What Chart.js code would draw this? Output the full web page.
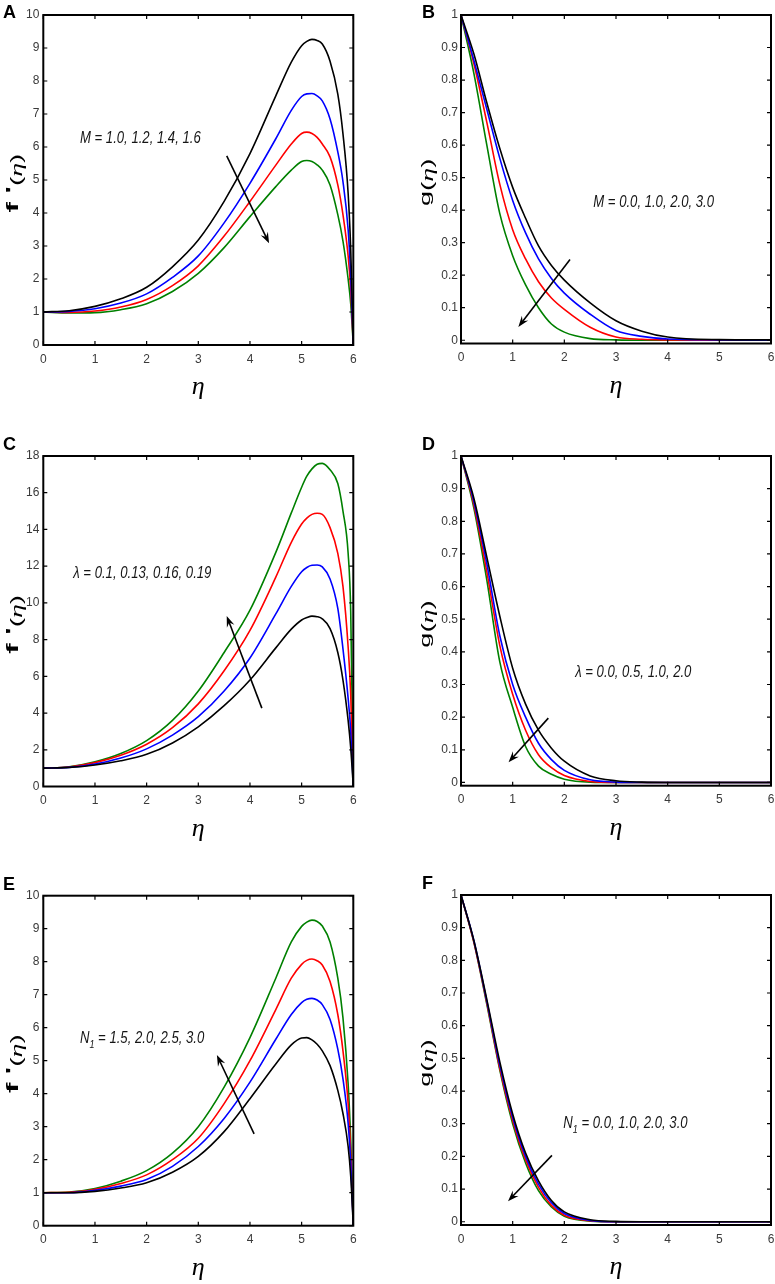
<!DOCTYPE html>
<html>
<head>
<meta charset="utf-8">
<script src="https://cdn.jsdelivr.net/npm/chart.js@4.4.1/dist/chart.umd.min.js"></script>
<style>
  html, body { margin: 0; padding: 0; background: #fff; }
  #fig { position: relative; width: 775px; height: 1284px; overflow: hidden; }
  #fig canvas { position: absolute; }
</style>
</head>
<body>
<div id="fig"></div>
<script>
// ---- data ----
const xF = [0, 0.5, 1, 1.5, 2, 2.5, 3, 3.5, 4, 4.5, 4.8, 5.0, 5.1, 5.2, 5.3, 5.4, 5.55, 5.7, 5.8, 5.9, 5.95, 6];
const xG = [0, 0.25, 0.5, 0.75, 1, 1.25, 1.5, 1.75, 2, 2.5, 3, 3.5, 4, 5, 6];

// A: f'(eta), M = 1.0, 1.2, 1.4, 1.6
const fM10 = [1.0, 1.04, 1.17, 1.40, 1.75, 2.37, 3.18, 4.35, 5.80, 7.55, 8.57, 9.07, 9.20, 9.26, 9.23, 9.12, 8.60, 7.60, 6.40, 4.60, 2.90, 0];
const fM12 = [1.0, 1.02, 1.10, 1.27, 1.55, 2.05, 2.70, 3.70, 4.90, 6.25, 7.11, 7.53, 7.61, 7.62, 7.55, 7.40, 6.85, 5.85, 4.95, 3.50, 2.10, 0];
const fM14 = [1.0, 0.99, 1.03, 1.15, 1.38, 1.80, 2.40, 3.30, 4.35, 5.45, 6.09, 6.41, 6.45, 6.41, 6.29, 6.09, 5.70, 4.85, 3.95, 2.70, 1.70, 0];
const fM16 = [1.0, 0.97, 0.98, 1.07, 1.25, 1.62, 2.17, 2.95, 3.89, 4.80, 5.30, 5.56, 5.59, 5.56, 5.46, 5.30, 4.85, 3.95, 3.15, 2.00, 1.25, 0];

// C: f'(eta), lambda = 0.1, 0.13, 0.16, 0.19
const fL10 = [1.0, 1.04, 1.17, 1.40, 1.75, 2.37, 3.25, 4.40, 5.80, 7.55, 8.57, 9.07, 9.20, 9.28, 9.25, 9.13, 8.60, 7.30, 5.80, 3.60, 2.10, 0];
const fL13 = [1.0, 1.04, 1.22, 1.55, 2.05, 2.80, 3.80, 5.20, 7.00, 9.40, 10.9, 11.7, 11.93, 12.05, 12.06, 11.96, 11.3, 9.70, 7.50, 4.80, 3.00, 0];
const fL16 = [1.0, 1.06, 1.30, 1.70, 2.30, 3.20, 4.50, 6.30, 8.50, 11.4, 13.3, 14.3, 14.62, 14.82, 14.88, 14.82, 14.1, 12.7, 10.9, 7.60, 5.00, 0];
const fL19 = [1.0, 1.08, 1.35, 1.80, 2.50, 3.60, 5.20, 7.30, 9.60, 12.75, 14.9, 16.3, 16.9, 17.3, 17.55, 17.6, 17.25, 16.5, 15.0, 12.7, 9.50, 0];

// E: f'(eta), N1 = 1.5, 2.0, 2.5, 3.0
const fN15 = [1.0, 1.00, 1.04, 1.14, 1.30, 1.62, 2.10, 2.85, 3.85, 4.90, 5.48, 5.69, 5.70, 5.63, 5.50, 5.30, 4.85, 4.10, 3.40, 2.40, 1.50, 0];
const fN20 = [1.0, 1.00, 1.07, 1.20, 1.40, 1.80, 2.40, 3.25, 4.35, 5.65, 6.40, 6.76, 6.86, 6.89, 6.84, 6.70, 6.25, 5.35, 4.45, 3.10, 1.90, 0];
const fN25 = [1.0, 1.01, 1.10, 1.28, 1.54, 2.00, 2.65, 3.70, 5.00, 6.55, 7.50, 7.92, 8.04, 8.08, 8.03, 7.90, 7.40, 6.40, 5.30, 3.70, 2.20, 0];
const fN30 = [1.0, 1.02, 1.13, 1.35, 1.67, 2.20, 3.00, 4.20, 5.70, 7.50, 8.60, 9.07, 9.20, 9.26, 9.22, 9.08, 8.60, 7.50, 6.30, 4.30, 2.60, 0];

// B: g(eta), M = 0.0, 1.0, 2.0, 3.0
const gM00 = [1, 0.88, 0.73, 0.59, 0.47, 0.375, 0.29, 0.23, 0.185, 0.115, 0.06, 0.028, 0.01, 0.002, 0.001];
const gM10 = [1, 0.86, 0.71, 0.56, 0.43, 0.33, 0.25, 0.19, 0.145, 0.08, 0.03, 0.012, 0.004, 0.001, 0];
const gM20 = [1, 0.85, 0.67, 0.48, 0.34, 0.25, 0.18, 0.13, 0.095, 0.04, 0.01, 0.003, 0.001, 0, 0];
const gM30 = [1, 0.82, 0.60, 0.39, 0.26, 0.17, 0.10, 0.05, 0.025, 0.005, 0.001, 0, 0, 0, 0];

// D: g(eta), lambda = 0.0, 0.5, 1.0, 2.0
const gL00 = [1, 0.87, 0.69, 0.51, 0.35, 0.24, 0.16, 0.105, 0.065, 0.02, 0.005, 0.001, 0, 0, 0];
const gL05 = [1, 0.86, 0.67, 0.45, 0.30, 0.20, 0.12, 0.07, 0.037, 0.008, 0.001, 0, 0, 0, 0];
const gL10 = [1, 0.85, 0.645, 0.42, 0.27, 0.16, 0.085, 0.045, 0.021, 0.003, 0, 0, 0, 0, 0];
const gL20 = [1, 0.84, 0.62, 0.37, 0.23, 0.11, 0.05, 0.025, 0.01, 0.001, 0, 0, 0, 0, 0];

// F: g(eta), N1 = 0.0, 1.0, 2.0, 3.0
const gN00 = [1, 0.86, 0.68, 0.49, 0.33, 0.21, 0.125, 0.065, 0.03, 0.006, 0.001, 0, 0, 0, 0];
const gN10 = [1, 0.86, 0.675, 0.48, 0.32, 0.20, 0.115, 0.058, 0.025, 0.004, 0, 0, 0, 0, 0];
const gN20 = [1, 0.855, 0.67, 0.47, 0.31, 0.19, 0.105, 0.05, 0.02, 0.003, 0, 0, 0, 0, 0];
const gN30 = [1, 0.855, 0.665, 0.465, 0.30, 0.18, 0.095, 0.045, 0.017, 0.002, 0, 0, 0, 0, 0];

// ticks
const xTicks = [0, 1, 2, 3, 4, 5, 6];
const yTicks10 = [0, 1, 2, 3, 4, 5, 6, 7, 8, 9, 10];
const yTicks18 = [0, 2, 4, 6, 8, 10, 12, 14, 16, 18];
const yTicksG = [0, 0.1, 0.2, 0.3, 0.4, 0.5, 0.6, 0.7, 0.8, 0.9, 1];
const yLabelsG = ['0', '0.1', '0.2', '0.3', '0.4', '0.5', '0.6', '0.7', '0.8', '0.9', '1'];

// ---- styling / layout ----
const colors = ['#000000', '#0000ff', '#ff0000', '#008000'];
const tickFont = { family: '"Liberation Sans", Arial, sans-serif', size: 12 };
const noteFamily = '"Liberation Sans", Arial, sans-serif';
const squeeze = 0.82;   // the source figure's text is horizontally condensed

const cols = [{ left: 0, w: 385 }, { left: 385, w: 390 }];
const rows = [{ top: 0, h: 420 }, { top: 420, h: 440 }, { top: 860, h: 424 }];

const panels = [
  { letter: 'A', col: 0, row: 0, rect: [43.3, 15, 353.3, 345], xs: xF, ys: [fM10, fM12, fM14, fM16],
    yMin: 0, yMax: 10, yTicks: yTicks10, kind: 'f',
    note: { pre: 'M', sub: '', post: ' = 1.0, 1.2, 1.4, 1.6', x: 0.71, y: 6.13 }, arrow: [3.55, 5.73, 4.37, 3.08] },
  { letter: 'B', col: 1, row: 0, rect: [461, 15, 771, 343.5], xs: xG, ys: [gM00, gM10, gM20, gM30],
    yMin: -0.01, yMax: 1, yTicks: yTicksG, labels: yLabelsG, kind: 'g',
    note: { pre: 'M', sub: '', post: ' = 0.0, 1.0, 2.0, 3.0', x: 2.56, y: 0.41 }, arrow: [2.11, 0.248, 1.11, 0.041] },
  { letter: 'C', col: 0, row: 1, rect: [43.3, 456, 353.3, 786.5], xs: xF, ys: [fL10, fL13, fL16, fL19],
    yMin: 0, yMax: 18, yTicks: yTicks18, kind: 'f',
    note: { pre: 'λ', sub: '', post: ' = 0.1, 0.13, 0.16, 0.19', x: 0.58, y: 11.33 }, arrow: [4.23, 4.27, 3.55, 9.29] },
  { letter: 'D', col: 1, row: 1, rect: [461, 456, 771, 785.7], xs: xG, ys: [gL00, gL05, gL10, gL20],
    yMin: -0.01, yMax: 1, yTicks: yTicksG, labels: yLabelsG, kind: 'g',
    note: { pre: 'λ', sub: '', post: ' = 0.0, 0.5, 1.0, 2.0', x: 2.21, y: 0.324 }, arrow: [1.69, 0.197, 0.92, 0.062] },
  { letter: 'E', col: 0, row: 2, rect: [43.3, 895.7, 353.3, 1225.7], xs: xF, ys: [fN15, fN20, fN25, fN30],
    yMin: 0, yMax: 10, yTicks: yTicks10, kind: 'f',
    note: { pre: 'N', sub: '1', post: ' = 1.5, 2.0, 2.5, 3.0', x: 0.71, y: 5.55 }, arrow: [4.08, 2.78, 3.36, 5.17] },
  { letter: 'F', col: 1, row: 2, rect: [461, 895, 771, 1225], xs: xG, ys: [gN00, gN10, gN20, gN30],
    yMin: -0.01, yMax: 1, yTicks: yTicksG, labels: yLabelsG, kind: 'g',
    note: { pre: 'N', sub: '1', post: ' = 0.0, 1.0, 2.0, 3.0', x: 1.98, y: 0.287 }, arrow: [1.76, 0.203, 0.91, 0.063] }
];

// ---- drawing helpers ----
function drawArrow(ctx, x0, y0, x1, y1) {
  const ang = Math.atan2(y1 - y0, x1 - x0), L = 11, W = 4;
  const c = Math.cos(ang), s = Math.sin(ang);
  const bx = x1 - L * c, by = y1 - L * s;
  ctx.beginPath();
  ctx.moveTo(x0, y0);
  ctx.lineTo(x1 - 6 * c, y1 - 6 * s);
  ctx.lineWidth = 1.6;
  ctx.stroke();
  ctx.beginPath();
  ctx.moveTo(x1, y1);
  ctx.lineTo(bx - W * s, by + W * c);
  ctx.lineTo(x1 - 7 * c, y1 - 7 * s);
  ctx.lineTo(bx + W * s, by - W * c);
  ctx.closePath();
  ctx.fill();
}

function drawYTitle(ctx, kind, bx, cy) {
  const parts = kind === 'f'
    ? [{ t: 'f', f: 'bold 31px "Liberation Sans", Arial', dy: 0 },
       { t: " '", f: 'bold 31px "Liberation Sans", Arial', dy: 0 },
       { t: '(', f: '28px "Liberation Sans", Arial', dy: 7 },
       { t: 'η', f: 'italic 28px "Liberation Serif", serif', dy: 7 },
       { t: ')', f: '28px "Liberation Sans", Arial', dy: 7 }]
    : [{ t: 'g', f: '27px "Liberation Sans", Arial', dy: 0 },
       { t: '(', f: '28px "Liberation Sans", Arial', dy: 5 },
       { t: 'η', f: 'italic 28px "Liberation Serif", serif', dy: 5 },
       { t: ')', f: '28px "Liberation Sans", Arial', dy: 5 }];
  ctx.save();
  ctx.translate(bx, cy);
  ctx.rotate(-Math.PI / 2);
  ctx.scale(1, 0.56);
  ctx.fillStyle = '#000';
  ctx.textBaseline = 'alphabetic';
  ctx.textAlign = 'left';
  let total = 0;
  parts.forEach(p => { ctx.font = p.f; p.w = ctx.measureText(p.t).width; total += p.w; });
  let x = -total / 2;
  parts.forEach(p => { ctx.font = p.f; ctx.fillText(p.t, x, p.dy); x += p.w; });
  ctx.restore();
}

function drawNote(ctx, n, tx, ty) {
  ctx.save();
  ctx.translate(tx, ty);
  ctx.scale(squeeze, 1);
  ctx.fillStyle = '#151515';
  ctx.textBaseline = 'alphabetic';
  ctx.textAlign = 'left';
  ctx.font = 'italic 16px ' + noteFamily;
  let x = 0;
  ctx.fillText(n.pre, x, 0);
  x += ctx.measureText(n.pre).width;
  if (n.sub) {
    ctx.font = 'italic 11px ' + noteFamily;
    ctx.fillText(n.sub, x, 5);
    x += ctx.measureText(n.sub).width;
    ctx.font = 'italic 16px ' + noteFamily;
  }
  ctx.fillText(n.post, x, 0);
  ctx.restore();
}

const decor = {
  id: 'decor',
  afterDatasetsDraw(chart, args, o) {
    const { ctx, chartArea: a, scales: { x, y } } = chart;
    ctx.save();
    ctx.strokeStyle = '#000';
    ctx.fillStyle = '#000';
    ctx.lineWidth = 1.2;
    ctx.beginPath();
    x.ticks.forEach(t => {
      const p = x.getPixelForValue(t.value);
      ctx.moveTo(p, a.bottom); ctx.lineTo(p, a.bottom - 4);
      ctx.moveTo(p, a.top); ctx.lineTo(p, a.top + 4);
    });
    y.ticks.forEach(t => {
      const p = y.getPixelForValue(t.value);
      ctx.moveTo(a.left, p); ctx.lineTo(a.left + 4, p);
      ctx.moveTo(a.right, p); ctx.lineTo(a.right - 4, p);
    });
    ctx.stroke();
    ctx.lineWidth = 2;
    ctx.strokeRect(a.left, a.top, a.right - a.left, a.bottom - a.top);

    const ar = o.arrow;
    drawArrow(ctx, x.getPixelForValue(ar[0]), y.getPixelForValue(ar[1]),
                   x.getPixelForValue(ar[2]), y.getPixelForValue(ar[3]));

    drawNote(ctx, o.note, x.getPixelForValue(o.note.x), y.getPixelForValue(o.note.y));

    // axis titles
    ctx.fillStyle = '#000';
    ctx.textAlign = 'center';
    ctx.textBaseline = 'alphabetic';
    ctx.font = 'italic 26px "Liberation Serif", serif';
    ctx.fillText('η', (a.left + a.right) / 2, a.bottom + 49);
    drawYTitle(ctx, o.kind, o.titleX, (a.top + a.bottom) / 2 + 3);

    // panel letter
    ctx.textAlign = 'left';
    ctx.font = 'bold 18px "Liberation Sans", Arial, sans-serif';
    ctx.fillText(o.letter, o.letterX, a.top + o.letterDy);
    ctx.restore();
  }
};

const fig = document.getElementById('fig');

panels.forEach(p => {
  const c = cols[p.col], r = rows[p.row];
  const [L, T, R, B] = p.rect;
  const xAxisH = 40;
  const canvas = document.createElement('canvas');
  canvas.width = c.w;
  canvas.height = r.h;
  canvas.style.left = c.left + 'px';
  canvas.style.top = r.top + 'px';
  fig.appendChild(canvas);

  const datasets = p.ys.map((ys, i) => ({
    data: p.xs.map((xv, j) => ({ x: xv, y: ys[j] })),
    borderColor: colors[i],
    borderWidth: 1.6,
    pointRadius: 0,
    fill: false,
    cubicInterpolationMode: 'monotone'
  }));

  new Chart(canvas.getContext('2d'), {
    type: 'line',
    data: { datasets },
    options: {
      responsive: false,
      animation: false,
      events: [],
      layout: { padding: { top: T - r.top, right: c.left + c.w - R, bottom: r.top + r.h - B - xAxisH, left: 0 } },
      plugins: {
        legend: { display: false },
        tooltip: { enabled: false },
        decor: {
          arrow: p.arrow, note: p.note, kind: p.kind, letter: p.letter,
          titleX: p.col === 0 ? 18 : 45,
          letterX: p.col === 0 ? 3 : 37,
          letterDy: p.row === 0 ? 3 : -6
        }
      },
      scales: {
        x: {
          type: 'linear', min: 0, max: 6,
          afterBuildTicks: s => { s.ticks = xTicks.map(v => ({ value: v })); },
          afterFit: s => { s.height = xAxisH; s.paddingLeft = 0; s.paddingRight = 0; },
          grid: { display: false, drawTicks: false },
          border: { display: false },
          ticks: { padding: 7, font: tickFont, color: '#3a3a3a', autoSkip: false, maxRotation: 0,
                   callback: (v, i) => String(xTicks[i]) }
        },
        y: {
          type: 'linear', min: p.yMin, max: p.yMax,
          afterBuildTicks: s => { s.ticks = p.yTicks.map(v => ({ value: v })); },
          afterFit: s => { s.width = L - c.left; s.paddingTop = 0; s.paddingBottom = 0; },
          grid: { display: false, drawTicks: false },
          border: { display: false },
          ticks: { padding: p.col === 0 ? 4 : 3, font: tickFont, color: '#3a3a3a', autoSkip: false,
                   callback: (v, i) => p.labels ? p.labels[i] : String(p.yTicks[i]) }
        }
      }
    },
    plugins: [decor]
  });
});
</script>
</body>
</html>
